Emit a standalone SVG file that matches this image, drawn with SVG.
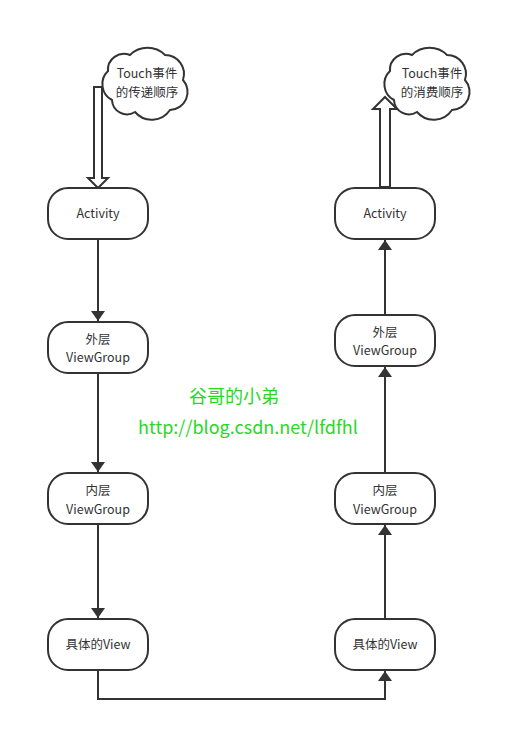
<svg xmlns="http://www.w3.org/2000/svg" width="507" height="732" viewBox="0 0 507 732">
<style>
.node{fill:#fff;stroke:#333;stroke-width:2}
.t{font-family:"Noto Sans CJK SC","Microsoft YaHei",sans-serif;font-size:12.5px;fill:#333;text-anchor:middle}
.g{font-family:"Noto Sans CJK SC","Microsoft YaHei",sans-serif;font-size:18px;fill:#27d827;text-anchor:middle}
.c{fill:none;stroke:#333;stroke-width:2}
.hollow{fill:#fff;stroke:#333;stroke-width:2;stroke-linejoin:miter}
</style>
<defs>
<marker id="ah" viewBox="0 0 10 14" refX="10" refY="7" markerWidth="10" markerHeight="14" markerUnits="userSpaceOnUse" orient="auto">
<path d="M0,0 L10,7 L0,14 z" fill="#333"/>
</marker>
<path id="cloud" d="M10,53 A18,18 0 0 1 6,24 A16,16 0 0 1 28,8 A25,25 0 0 1 63,8 A19,19 0 0 1 81,33 A18,18 0 0 1 68,63 A22,22 0 0 1 33,65 A15,15 0 0 1 10,53 Z"/>
</defs>
<rect width="507" height="732" fill="#fff"/>
<g id="connectors">
<path class="c" d="M98,240 V321" marker-end="url(#ah)"/>
<path class="c" d="M98,373 V472" marker-end="url(#ah)"/>
<path class="c" d="M98,524 V618" marker-end="url(#ah)"/>
<path class="c" d="M98,670 V699 H385 V671" marker-end="url(#ah)"/>
<path class="c" d="M385,619 V525" marker-end="url(#ah)"/>
<path class="c" d="M385,473 V367" marker-end="url(#ah)"/>
<path class="c" d="M385,315 V240" marker-end="url(#ah)"/>
</g>
<g id="cloud-left">
<use href="#cloud" transform="translate(102,47)" fill="#fff" stroke="#333" stroke-width="2"/>
<text class="t" x="147" y="78">Touch事件</text>
<text class="t" x="147" y="96.5">的传递顺序</text>
</g>
<g id="cloud-right">
<use href="#cloud" transform="translate(384,47)" fill="#fff" stroke="#333" stroke-width="2"/>
<text class="t" x="432" y="78">Touch事件</text>
<text class="t" x="432" y="96.5">的消费顺序</text>
</g>
<g id="hollow-arrow-down">
<path class="hollow" d="M94,87 H102 V178 H108 L98,188 L88,178 H94 Z"/>
</g>
<g id="hollow-arrow-up">
<path class="hollow" d="M380,187 V109 H373 L385,97 L397,109 H390 V187 Z"/>
</g>
<g id="n-activity-l">
<rect class="node" x="48" y="188" width="100" height="51" rx="20"/>
<text class="t" x="98" y="218">Activity</text>
</g>
<g id="n-outer-l">
<rect class="node" x="48" y="322" width="100" height="51" rx="20"/>
<text class="t" x="98" y="343.5">外层</text>
<text class="t" x="98" y="362">ViewGroup</text>
</g>
<g id="n-inner-l">
<rect class="node" x="48" y="473" width="100" height="51" rx="20"/>
<text class="t" x="98" y="495">内层</text>
<text class="t" x="98" y="513.5">ViewGroup</text>
</g>
<g id="n-view-l">
<rect class="node" x="48" y="619" width="100" height="51" rx="20"/>
<text class="t" x="98" y="649">具体的View</text>
</g>
<g id="n-activity-r">
<rect class="node" x="335" y="188" width="100" height="51" rx="20"/>
<text class="t" x="385" y="218">Activity</text>
</g>
<g id="n-outer-r">
<rect class="node" x="335" y="315" width="100" height="51" rx="20"/>
<text class="t" x="385" y="336.5">外层</text>
<text class="t" x="385" y="355">ViewGroup</text>
</g>
<g id="n-inner-r">
<rect class="node" x="335" y="473" width="100" height="51" rx="20"/>
<text class="t" x="385" y="495">内层</text>
<text class="t" x="385" y="513.5">ViewGroup</text>
</g>
<g id="n-view-r">
<rect class="node" x="335" y="619" width="100" height="51" rx="20"/>
<text class="t" x="385" y="649">具体的View</text>
</g>
<g id="watermark">
<text class="g" x="234" y="403">谷哥的小弟</text>
<text class="g" x="248" y="434">http://blog.csdn.net/lfdfhl</text>
</g>
</svg>
